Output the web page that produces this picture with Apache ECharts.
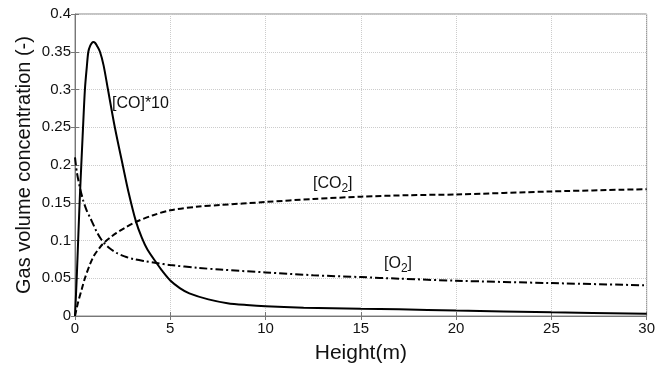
<!DOCTYPE html>
<html>
<head>
<meta charset="utf-8">
<script src="https://cdn.jsdelivr.net/npm/echarts@6/dist/echarts.min.js"></script>
<style>
  html, body { margin: 0; padding: 0; background: #fff; }
  #chart { width: 658px; height: 369px; }
</style>
</head>
<body>
<div id="chart"></div>
<script>
// [CO]*10 (solid)
const heightCO = [0, 0.09, 0.18, 0.26, 0.33, 0.4, 0.52, 0.62, 0.7, 0.8, 0.9, 0.96, 1.05, 1.15, 1.31, 1.5, 1.73, 2.09, 2.52, 2.8, 3.19, 3.5, 3.8, 4.27, 4.6, 5, 5.5, 6, 7, 8, 9, 10, 12, 15, 17, 20, 25, 30];
const valueCO = [0, 0.05, 0.11, 0.161, 0.2, 0.238, 0.3, 0.33, 0.35, 0.358, 0.362, 0.363, 0.362, 0.358, 0.35, 0.332, 0.3, 0.25, 0.198, 0.165, 0.126, 0.104, 0.088, 0.0705, 0.059, 0.047, 0.037, 0.03, 0.022, 0.017, 0.0145, 0.0128, 0.011, 0.0095, 0.0088, 0.0073, 0.005, 0.003];

// [CO2] (dashed)
const heightCO2 = [0, 0.15, 0.35, 0.52, 0.78, 1.0, 1.31, 1.48, 1.8, 2.18, 2.6, 3.19, 4.1, 5, 6.5, 7.6, 10, 12.5, 15, 17.5, 20, 25, 30];
const valueCO2 = [0, 0.017, 0.035, 0.05, 0.068, 0.08, 0.091, 0.096, 0.103, 0.11, 0.1165, 0.1245, 0.1335, 0.14, 0.145, 0.147, 0.151, 0.155, 0.158, 0.16, 0.161, 0.165, 0.168];

// [O2] (dash-dot)
const heightO2 = [0, 0.1, 0.26, 0.43, 0.61, 0.78, 1.0, 1.13, 1.31, 1.48, 1.8, 2.18, 2.6, 3.05, 3.7, 4.27, 5, 6.5, 7.6, 10, 12.5, 15, 17, 20, 25, 30];
const valueO2 = [0.21, 0.19, 0.17, 0.153, 0.14, 0.131, 0.119, 0.112, 0.104, 0.098, 0.09, 0.0835, 0.079, 0.0755, 0.0725, 0.0703, 0.0675, 0.0637, 0.0615, 0.0577, 0.054, 0.0515, 0.0495, 0.0467, 0.0436, 0.0406];

const pairs = (xs, ys) => xs.map((x, i) => [x, ys[i]]);

const font = '"Liberation Sans", Arial, sans-serif';
const chart = echarts.init(document.getElementById('chart'));

const hiddenAxis = {
  axisLabel: { show: false },
  axisLine: { show: false },
  splitLine: { show: false },
  axisTick: { show: true, inside: true, length: 4, lineStyle: { color: '#777' } },
};

const option = {
  backgroundColor: '#fff',
  animation: false,
  grid: {
    left: 75, right: 10, top: 14, bottom: 43,
    show: true, borderColor: '#888', borderWidth: 1,
  },
  xAxis: [
    {
      type: 'value', min: 0, max: 30, interval: 5,
      name: 'Height(m)', nameLocation: 'middle', nameGap: 27,
      nameTextStyle: { fontFamily: font, fontSize: 21, color: '#111' },
      axisLine: { show: true, lineStyle: { color: '#777' } },
      axisTick: { show: true, inside: true, length: 4, lineStyle: { color: '#777' } },
      axisLabel: { fontFamily: font, fontSize: 15, color: '#111', margin: 5 },
      splitLine: { show: true, lineStyle: { color: '#ccc', type: 'dotted' } },
    },
    Object.assign({ type: 'value', min: 0, max: 30, interval: 5, position: 'top' }, hiddenAxis),
  ],
  yAxis: [
    {
      type: 'value', min: 0, max: 0.4, interval: 0.05,
      name: 'Gas volume concentration (-)', nameLocation: 'middle', nameGap: 41,
      nameMoveOverlap: false,
      nameTextStyle: { fontFamily: font, fontSize: 20, color: '#111' },
      axisLine: { show: true, lineStyle: { color: '#777' } },
      axisTick: { show: true, inside: true, length: 4, lineStyle: { color: '#777' } },
      axisLabel: { fontFamily: font, fontSize: 15, color: '#111', margin: 4 },
      splitLine: { show: true, lineStyle: { color: '#ccc', type: 'dotted' } },
    },
    Object.assign({ type: 'value', min: 0, max: 0.4, interval: 0.05, position: 'right' }, hiddenAxis),
  ],
  series: [
    {
      name: '[CO]*10', type: 'line', smooth: 0.3, showSymbol: false,
      data: pairs(heightCO, valueCO),
      lineStyle: { color: '#000', width: 2, type: 'solid' },
    },
    {
      name: '[CO2]', type: 'line', smooth: 0.3, showSymbol: false,
      data: pairs(heightCO2, valueCO2),
      lineStyle: { color: '#000', width: 2, type: [6, 3] },
    },
    {
      name: '[O2]', type: 'line', smooth: 0.3, showSymbol: false,
      data: pairs(heightO2, valueO2),
      lineStyle: { color: '#000', width: 2, type: [8, 3, 2, 3] },
    },
  ],
  graphic: [
    {
      type: 'text', left: 112, top: 96,
      style: { text: '[CO]*10', fontFamily: font, fontSize: 16, fill: '#111' },
    },
    {
      type: 'text', left: 313, top: 176,
      style: {
        text: '[CO{sub|2}]', fontFamily: font, fontSize: 16, fill: '#111',
        rich: { sub: { fontFamily: font, fontSize: 12, fill: '#111', padding: [10, 0, 0, 0] } },
      },
    },
    {
      type: 'text', left: 384, top: 256,
      style: {
        text: '[O{sub|2}]', fontFamily: font, fontSize: 16, fill: '#111',
        rich: { sub: { fontFamily: font, fontSize: 12, fill: '#111', padding: [10, 0, 0, 0] } },
      },
    },
  ],
};

chart.setOption(option);
</script>
</body>
</html>
